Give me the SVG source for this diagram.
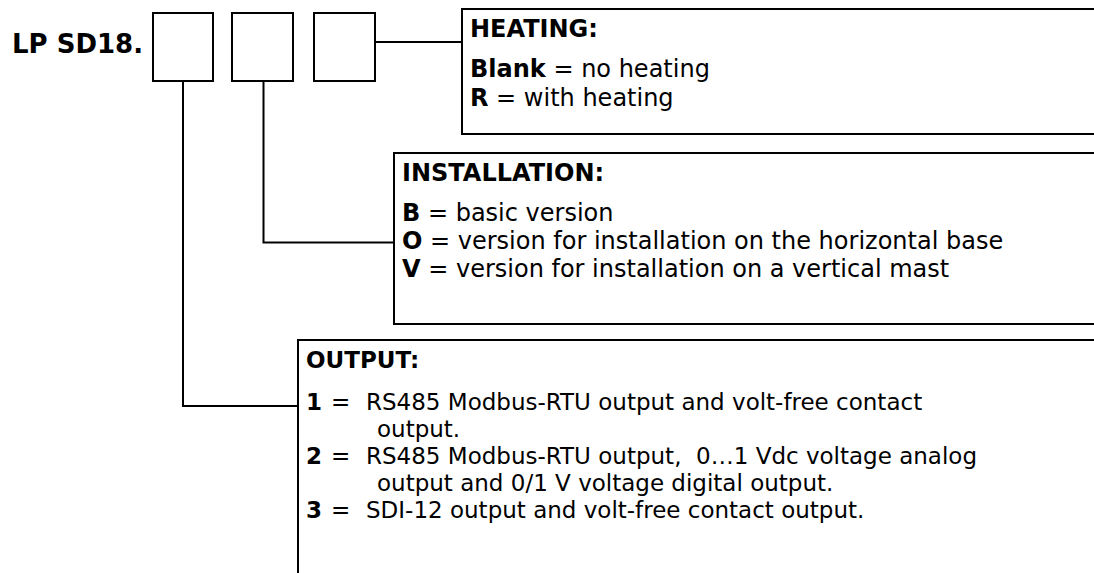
<svg xmlns="http://www.w3.org/2000/svg" width="1094" height="573" viewBox="0 0 1094 573">
<style>
text{font-family:"DejaVu Sans",Verdana,sans-serif;fill:#000;font-size:24px}
.o{font-size:23px}
.lp{font-size:26px}
.b{font-weight:bold}
.box{fill:#fff;stroke:#000;stroke-width:2}
.ln{fill:none;stroke:#000;stroke-width:2}
</style>
<rect width="1094" height="573" fill="#fff"/>
<g id="connectors">
<path class="ln" d="M375 42H462"/>
<path class="ln" d="M263.5 81V242.5H394"/>
<path class="ln" d="M183 81V406H298"/>
</g>
<g id="code">
<text x="12" y="53" class="b lp">LP SD18.</text>
<rect class="box" x="153" y="13" width="60" height="68"/>
<rect class="box" x="232" y="13" width="61" height="68"/>
<rect class="box" x="314" y="13" width="61" height="68"/>
</g>
<g id="heating">
<rect class="box" x="462" y="9" width="700" height="125"/>
<text class="b" x="470" y="37">HEATING:</text>
<text x="470" y="77" xml:space="preserve"><tspan class="b">Blank</tspan> = no heating</text>
<text x="470" y="106" xml:space="preserve"><tspan class="b">R</tspan> = with heating</text>
</g>
<g id="installation">
<rect class="box" x="394" y="153" width="800" height="171"/>
<text class="b" x="402" y="181">INSTALLATION:</text>
<text x="402" y="221" xml:space="preserve"><tspan class="b">B</tspan> = basic version</text>
<text x="402" y="249" xml:space="preserve"><tspan class="b">O</tspan> = version for installation on the horizontal base</text>
<text x="402" y="277" xml:space="preserve"><tspan class="b">V</tspan> = version for installation on a vertical mast</text>
</g>
<g id="output">
<rect class="box" x="298" y="340" width="900" height="300"/>
<text class="b o" x="306" y="368">OUTPUT:</text>
<text class="o" y="410"><tspan class="b" x="306">1</tspan><tspan x="331">=</tspan><tspan x="366">RS485 Modbus-RTU output and volt-free contact</tspan></text>
<text class="o" x="377" y="437">output.</text>
<text class="o" y="464"><tspan class="b" x="306">2</tspan><tspan x="331">=</tspan><tspan x="366" xml:space="preserve">RS485 Modbus-RTU output,  0…1 Vdc voltage analog</tspan></text>
<text class="o" x="377" y="491">output and 0/1 V voltage digital output.</text>
<text class="o" y="518"><tspan class="b" x="306">3</tspan><tspan x="331">=</tspan><tspan x="366">SDI-12 output and volt-free contact output.</tspan></text>
</g>
</svg>
